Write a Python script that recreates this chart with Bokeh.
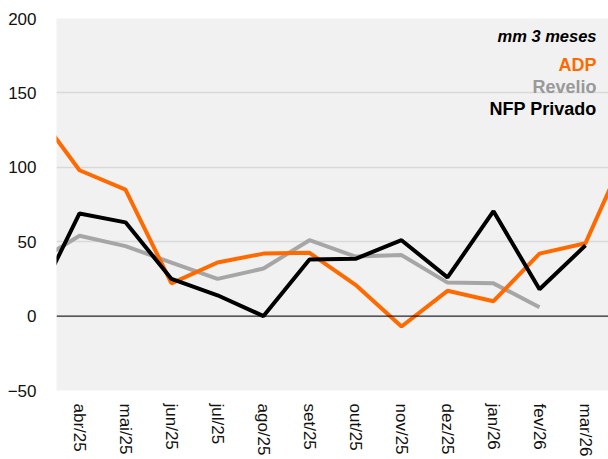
import math
from bokeh.plotting import figure
from bokeh.models import FixedTicker, Label, Span, Range1d
from bokeh.embed import file_html
from bokeh.resources import INLINE

# index 0 = mar/25 (off-frame start), 13 = abr/26 (off-frame end)
months = ["mar/25", "abr/25", "mai/25", "jun/25", "jul/25", "ago/25", "set/25",
          "out/25", "nov/25", "dez/25", "jan/26", "fev/26", "mar/26", "abr/26"]
adp = [140, 98, 85, 22, 36, 42, 42.5, 21, -7, 17, 10, 42, 49, 118]
revelio = [35, 54, 47, 36, 25, 32, 51, 40, 41, 22.5, 22, 6]
nfp = [6, 69, 63, 25, 14, 0, 38, 38.5, 51, 26, 70.5, 18, 47.5]

idx_adp = list(range(len(adp)))
idx_rev = list(range(len(revelio)))
idx_nfp = list(range(len(nfp)))

p = figure(width=608, height=459, output_backend="svg", toolbar_location=None,
           x_range=Range1d(0.5, 12.5), y_range=Range1d(-50, 200),
           min_border_left=56, min_border_right=0, min_border_top=18, min_border_bottom=68)
p.background_fill_color = "#f1f1f1"
p.border_fill_color = "white"
p.outline_line_color = None

p.line(idx_rev, revelio, line_color="#a6a6a6", line_width=4)
p.line(idx_adp, adp, line_color="#ff6a00", line_width=4)
p.line(idx_nfp, nfp, line_color="#000000", line_width=4)

p.add_layout(Span(location=0, dimension="width", line_color="black", line_width=1))

p.xgrid.grid_line_color = None
p.ygrid.grid_line_color = "#d9d9d9"
p.ygrid.grid_line_width = 1.5
p.yaxis.ticker = FixedTicker(ticks=[-50, 0, 50, 100, 150, 200])
p.xaxis.ticker = FixedTicker(ticks=list(range(1, 13)))
p.xaxis.major_label_overrides = {i: months[i] for i in range(1, 13)}
p.xaxis.major_label_orientation = -math.pi / 2

for ax in (p.xaxis, p.yaxis):
    ax.axis_line_color = None
    ax.major_tick_line_color = None
    ax.minor_tick_line_color = None
    ax.major_label_text_font = "Liberation Sans"
    ax.major_label_text_font_size = "17px"
    ax.major_label_text_color = "#111111"
p.yaxis.major_label_standoff = 14
p.xaxis.major_label_standoff = 7

# legend-style labels placed in data units at the top right
legend_text = ["mm 3 meses", "ADP", "Revelio", "NFP Privado"]
legend_colors = ["#000000", "#ff6a00", "#999999", "#000000"]
legend_styles = ["bold italic", "bold", "bold", "bold"]
legend_sizes = ["16.5px", "18px", "18px", "18px"]
legend_y = [188.3, 168.9, 154.2, 139.4]
for txt, col, style, size, yv in zip(legend_text, legend_colors, legend_styles, legend_sizes, legend_y):
    p.add_layout(Label(x=12.24, y=yv, text=txt,
                       text_color=col, text_font_style=style, text_font_size=size,
                       text_font="Liberation Sans", text_align="right",
                       text_baseline="middle"))

open("out.html", "w").write(file_html(p, INLINE))
